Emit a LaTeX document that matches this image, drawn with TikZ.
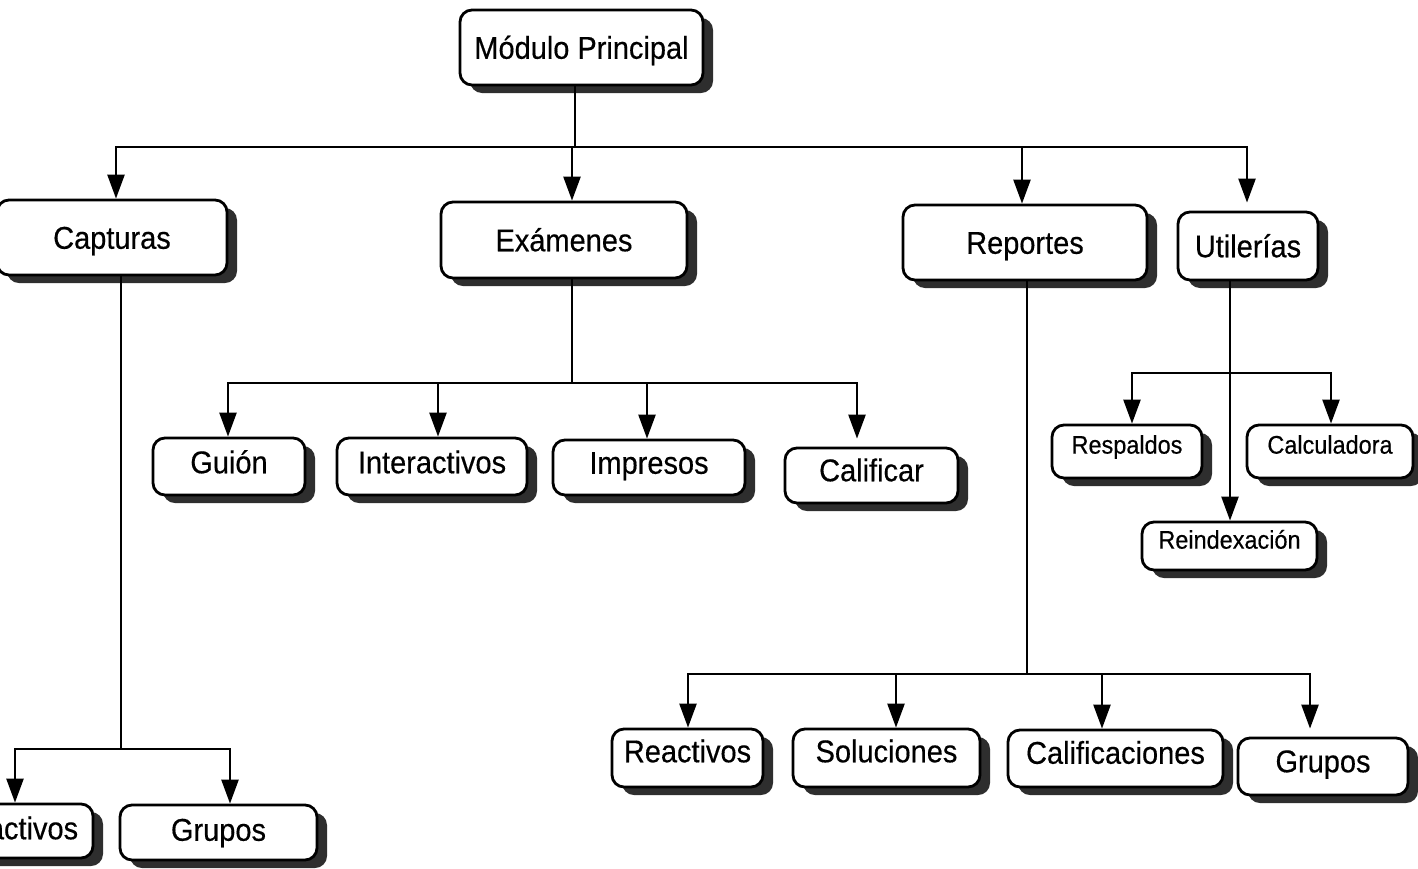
\documentclass[tikz,border=0pt]{standalone}
\usepackage{fontspec}
\setmainfont{Liberation Sans}[FakeStretch=0.92, FakeBold=0.4]
\usetikzlibrary{shadows,arrows.meta}
\tikzset{
  box/.style={draw=black, line width=2.8pt, rounded corners=12pt, fill=white,
    inner sep=0pt, font=\fontsize{31.5}{36}\selectfont, text height=22.5pt, text depth=0pt,
    drop shadow={shadow xshift=10pt, shadow yshift=-8pt, fill=black!82, opacity=1}},
  sbox/.style={box, font=\fontsize{25.5}{30}\selectfont, text height=18.3pt},
  conn/.style={line width=2.4pt, draw=black},
  arr/.style={conn, -{Triangle[length=24pt,width=17pt]}},
}
\begin{document}
\begin{tikzpicture}[x=1pt,y=-1pt]
\useasboundingbox[fill=white] (0,0) rectangle (1418,868);
% level 0
\node[box, minimum width=243pt, minimum height=75pt] (mod) at (581.5,47.5) {Módulo Principal};
% level 1
\node[box, minimum width=230pt, minimum height=75pt] (capt) at (112,237.5) {Capturas};
\node[box, minimum width=246pt, minimum height=76pt] (exam) at (564,240) {Exámenes};
\node[box, minimum width=244pt, minimum height=75pt] (rep) at (1025,242.5) {Reportes};
\node[box, minimum width=140pt, minimum height=68pt] (util) at (1248,246) {Utilerías};
% Examenes children
\node[box, minimum width=152pt, minimum height=57pt, text depth=9pt] (guion) at (229,466.5) {Guión};
\node[box, minimum width=190pt, minimum height=57pt, text depth=9pt] (inter) at (432,466.5) {Interactivos};
\node[box, minimum width=192pt, minimum height=55pt, text depth=10pt] (impr) at (649,467.5) {Impresos};
\node[box, minimum width=173pt, minimum height=55pt, text depth=11pt] (calif) at (871.5,475.5) {Calificar};
% Utilerias children
\node[sbox, minimum width=150pt, minimum height=53pt, text depth=14pt] (resp) at (1127,451.5) {Respaldos};
\node[sbox, minimum width=166pt, minimum height=53pt, text depth=14pt] (calc) at (1330,451.5) {Calculadora};
\node[sbox, minimum width=175pt, minimum height=48pt, text depth=13pt] (reind) at (1229.5,546) {Reindexación};
% Reportes children
\node[box, minimum width=151pt, minimum height=58pt, text depth=14pt] (reactR) at (687.5,758) {Reactivos};
\node[box, minimum width=187pt, minimum height=58pt, text depth=14pt] (sol) at (886.5,758) {Soluciones};
\node[box, minimum width=215pt, minimum height=57pt, text depth=12pt] (califs) at (1115.5,758.5) {Calificaciones};
\node[box, minimum width=170pt, minimum height=57pt, text depth=11pt] (grupR) at (1323,766.5) {Grupos};
% Capturas children
\node[box, minimum width=157pt, minimum height=54pt, text depth=6pt] (reactC) at (14.5,831) {Reactivos};
\node[box, minimum width=197pt, minimum height=55pt, text depth=6pt] (grupC) at (218.5,832.5) {Grupos};
% connectors from Modulo Principal
\coordinate (h1) at (575,147);
\draw[conn] (mod.south -| h1) -- (h1);
\draw[arr] (h1) -| ([xshift=4pt]capt.north);
\draw[arr] (h1) -| ([xshift=8pt]exam.north);
\draw[arr] (h1) -| ([xshift=-3pt]rep.north);
\draw[arr] (h1) -| ([xshift=-1pt,yshift=8pt]util.north);
% Examenes
\coordinate (h2) at (572,383);
\draw[conn] (exam.south -| h2) -- (h2);
\draw[arr] (h2) -| ([xshift=-1pt]guion.north);
\draw[arr] (h2) -| ([xshift=6pt]inter.north);
\draw[arr] (h2) -| ([xshift=-2pt]impr.north);
\draw[arr] (h2) -| ([xshift=-14.5pt,yshift=8pt]calif.north);
% Capturas
\coordinate (h3) at (121,749);
\draw[conn] (capt.south -| h3) -- (h3);
\draw[arr] (h3) -| ([xshift=0.5pt]reactC.north);
\draw[arr] (h3) -| ([xshift=11.5pt]grupC.north);
% Reportes
\coordinate (h4) at (1027,674);
\draw[conn] (rep.south -| h4) -- (h4);
\draw[arr] (h4) -| ([xshift=0.5pt]reactR.north);
\draw[arr] (h4) -| ([xshift=9.5pt]sol.north);
\draw[arr] (h4) -| ([xshift=-13.5pt]califs.north);
\draw[arr] (h4) -| ([xshift=-13pt,yshift=8pt]grupR.north);
% Utilerias
\coordinate (h5) at (1230,373);
\draw[arr] (util.south -| h5) -- (reind.north -| h5);
\draw[arr] (h5) -| ([xshift=5pt]resp.north);
\draw[arr] (h5) -| ([xshift=1pt]calc.north);
\end{tikzpicture}
\end{document}
